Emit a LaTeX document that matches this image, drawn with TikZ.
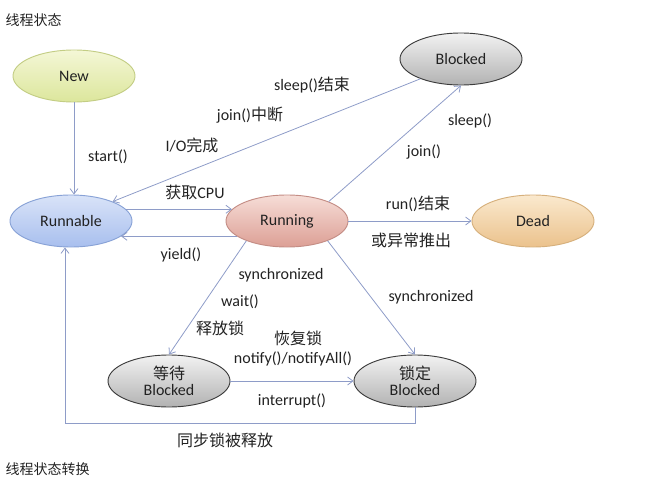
\documentclass[tikz,border=0pt]{standalone}
\usepackage{fontspec}
\setmainfont{Carlito}
\newfontfamily\cjk{Noto Sans CJK SC}
\usetikzlibrary{shapes.geometric, arrows.meta}

\definecolor{linecol}{HTML}{8E9CC8}
\definecolor{txtcol}{HTML}{222222}
\definecolor{newtop}{HTML}{F4F7D6}
\definecolor{newbot}{HTML}{DCE69C}
\definecolor{newdraw}{HTML}{C3CD84}
\definecolor{runtop}{HTML}{D9E3F8}
\definecolor{runbot}{HTML}{A8BFEE}
\definecolor{rundraw}{HTML}{88A2D6}
\definecolor{gotop}{HTML}{F6DDD7}
\definecolor{gobot}{HTML}{DC9F95}
\definecolor{godraw}{HTML}{C48D85}
\definecolor{blktop}{HTML}{F2F2F2}
\definecolor{blkbot}{HTML}{B2B2B2}
\definecolor{blkdraw}{HTML}{3C3C3C}
\definecolor{deadtop}{HTML}{FAE9CE}
\definecolor{deadbot}{HTML}{EBC28C}
\definecolor{deaddraw}{HTML}{D6B07C}

\begin{document}
\begin{tikzpicture}[x=0.75pt, y=-0.75pt,
    font=\fontsize{12}{14}\selectfont, text=txtcol,
    state/.style={ellipse, minimum width=91.5pt, minimum height=39pt,
        inner sep=0pt, align=center, line width=0.7pt},
    newst/.style={state, draw=newdraw, top color=newtop, bottom color=newbot},
    runst/.style={state, draw=rundraw, top color=runtop, bottom color=runbot},
    goingst/.style={state, draw=godraw, top color=gotop, bottom color=gobot},
    blockst/.style={state, draw=blkdraw, top color=blktop, bottom color=blkbot},
    deadst/.style={state, draw=deaddraw, top color=deadtop, bottom color=deadbot},
    lbl/.style={inner sep=1pt},
    arr/.style={draw=linecol, line width=0.6pt, -{Straight Barb[length=4pt, width=6pt]}}]
    \useasboundingbox (0,0) rectangle (668,492);

    % --- States ---
    \node[newst]   (new)      at (74,76)   {New};
    \node[runst]   (runnable) at (71,221)  {Runnable};
    \node[goingst] (running)  at (287,221) {Running};
    \node[blockst] (blocked)  at (461,59)  {Blocked};
    \node[deadst]  (dead)     at (533,221) {Dead};
    \node[blockst] (waitblk)  at (169,381) {{\cjk 等待}\\[-2pt]Blocked};
    \node[blockst] (lockblk)  at (415,381) {{\cjk 锁定}\\[-2pt]Blocked};
    \coordinate (relbend) at (65,423);

    % --- Transitions ---
    \draw[arr] (new) -- (new |- runnable.north);
    \draw[arr] (blocked.206) -- (runnable.25);
    \draw[arr] (runnable.12) -- (running.168);
    \draw[arr] (running.197) -- (runnable.-17);
    \draw[arr] (running.25) -- (blocked.south);
    \draw[arr] (running.east) -- (dead.west);
    \draw[arr] (running.206) -- (waitblk.north);
    \draw[arr] (running.-26) -- (lockblk.north);
    \draw[arr] (waitblk.east) -- (lockblk.west);
    \draw[arr] (lockblk.south) |- (relbend) -- (relbend |- runnable.south);

    % --- Labels ---
    \node[lbl] (lstart)  at (108,157) {start()};
    \node[lbl] (lsleepe) at (312,85)  {sleep(){\cjk 结束}};
    \node[lbl] (ljoinb)  at (250,115) {join(){\cjk 中断}};
    \node[lbl] (lio)     at (192,145) {I/O{\cjk 完成}};
    \node[lbl] (lcpu)    at (195,192) {{\cjk 获取}CPU};
    \node[lbl] (lyield)  at (181,255) {yield()};
    \node[lbl] (lsleep)  at (470,121) {sleep()};
    \node[lbl] (ljoin)   at (424,152) {join()};
    \node[lbl] (lrun)    at (418,204) {run(){\cjk 结束}};
    \node[lbl] (lexc)    at (411,240) {\cjk 或异常推出};
    \node[lbl] (lsynca)  at (281,275) {synchronized};
    \node[lbl] (lwait)   at (240,302) {wait()};
    \node[lbl] (lrel)    at (220,328) {\cjk 释放锁};
    \node[lbl] (lresume) at (298,338) {\cjk 恢复锁};
    \node[lbl] (lnotify) at (293,359) {notify()/notifyAll()};
    \node[lbl] (lintr)   at (292,401) {interrupt()};
    \node[lbl] (lsyncb)  at (431,297) {synchronized};
    \node[lbl] (lfree)   at (225,440) {\cjk 同步锁被释放};

    % --- Captions ---
    \node[lbl, anchor=west, font=\cjk\fontsize{10.5}{12}\selectfont] (title) at (4,20) {线程状态};
    \node[lbl, anchor=west, font=\cjk\fontsize{10.5}{12}\selectfont] (foot) at (4,469) {线程状态转换};
\end{tikzpicture}
\end{document}
